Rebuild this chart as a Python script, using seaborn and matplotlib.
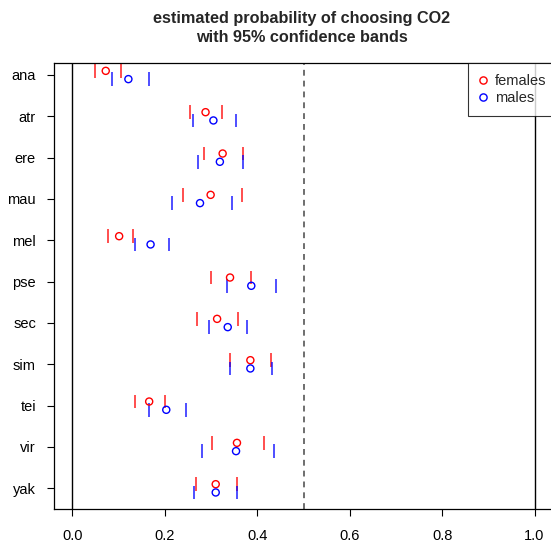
import numpy as np
import pandas as pd
import matplotlib
matplotlib.use("Agg")
import matplotlib.pyplot as plt
import seaborn as sns
from matplotlib.lines import Line2D

species = ["ana", "atr", "ere", "mau", "mel", "pse", "sec", "sim", "tei", "vir", "yak"]
female_est = [0.072, 0.288, 0.325, 0.299, 0.101, 0.341, 0.313, 0.385, 0.166, 0.356, 0.310]
female_lo = [0.049, 0.254, 0.284, 0.239, 0.076, 0.299, 0.270, 0.341, 0.136, 0.302, 0.267]
female_hi = [0.104, 0.324, 0.370, 0.366, 0.132, 0.387, 0.359, 0.429, 0.200, 0.414, 0.356]
male_est = [0.121, 0.305, 0.319, 0.276, 0.169, 0.387, 0.336, 0.385, 0.203, 0.354, 0.310]
male_lo = [0.086, 0.260, 0.272, 0.216, 0.135, 0.335, 0.296, 0.342, 0.166, 0.280, 0.264]
male_hi = [0.166, 0.353, 0.370, 0.346, 0.209, 0.440, 0.378, 0.432, 0.246, 0.437, 0.357]
xticks = [0.0, 0.2, 0.4, 0.6, 0.8, 1.0]

sns.set_style("white")
plt.rcParams['font.family'] = ['Liberation Sans', 'DejaVu Sans']

n = len(species)
pos = np.arange(n)
off = 0.1
rows = []
for i, sp in enumerate(species):
    rows.append(dict(sex="females", y=i - off, est=female_est[i], lo=female_lo[i], hi=female_hi[i]))
    rows.append(dict(sex="males", y=i + off, est=male_est[i], lo=male_lo[i], hi=male_hi[i]))
df = pd.DataFrame(rows)
pal = {"females": "#FF0000", "males": "#0000FF"}

fig = plt.figure(figsize=(5.51, 5.46), dpi=100)
ax = fig.add_axes([54/551, 37/546, (553-54)/551, (509-63)/546])

ax.axvline(0, color="black", lw=1)
ax.axvline(1, color="black", lw=1)
ax.axvline(0.5, color="#555555", lw=1.2, ls=(0, (3.5, 3)))

for col in ["lo", "hi"]:
    sns.scatterplot(data=df, x=col, y="y", hue="sex", palette=pal, marker="|",
                    s=100, linewidth=1.3, alpha=0.75, legend=False, ax=ax)
sns.scatterplot(data=df, x="est", y="y", hue="sex", palette=pal, marker="o",
                s=26, linewidth=1.0, legend=False, ax=ax)
coll = ax.collections[-1]
coll.set_edgecolors(coll.get_facecolors())
coll.set_facecolors("none")

ax.set_xlim(-0.04, 1.04)
ax.set_ylim(n - 1 + 0.5, -0.29)
ax.set_yticks(pos)
ax.set_yticklabels(species)
ax.set_xticks(xticks)
ax.set_xticklabels([f"{v:.1f}" for v in xticks])
ax.set_xlabel("")
ax.set_ylabel("")
ax.tick_params(axis="both", direction="out", length=5, width=0.8, labelsize=10.5,
               bottom=True, left=True, colors="black")
ax.tick_params(axis="x", pad=9.5)
ax.tick_params(axis="y", pad=8)
for s in ax.spines.values():
    s.set_color("black")
    s.set_linewidth(0.9)

handles = [Line2D([], [], marker="o", ls="none", mfc="none", mec="#FF0000", ms=5.2, mew=1),
           Line2D([], [], marker="o", ls="none", mfc="none", mec="#0000FF", ms=5.2, mew=1)]
leg = ax.legend(handles, ["females", "males"], loc="upper right",
                bbox_to_anchor=(1.0 + 4.5/499, 1.0),
                frameon=True, fancybox=False, edgecolor="black", fontsize=10.5,
                handletextpad=0.5, borderaxespad=0, handlelength=0.6, labelspacing=0.22,
                borderpad=0.75)
leg.get_frame().set_linewidth(0.8)

fig.text(302/551, 1 - 28/546, "estimated probability of choosing CO2\nwith 95% confidence bands",
         ha="center", va="center", fontsize=11.7, fontweight="bold", linespacing=1.25)

fig.savefig("out.png", dpi=100)
